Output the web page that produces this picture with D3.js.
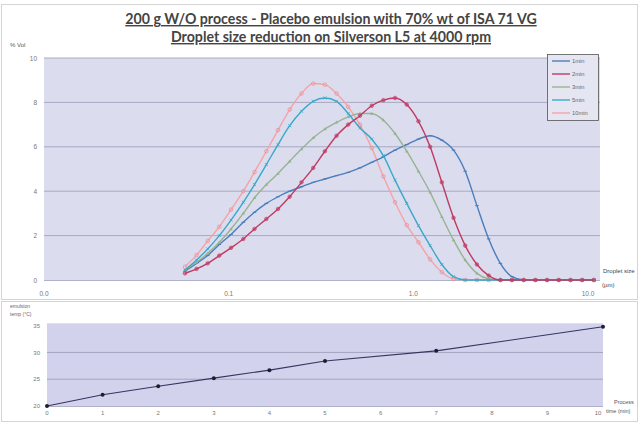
<!DOCTYPE html>
<html><head><meta charset="utf-8">
<script src="https://cdn.jsdelivr.net/npm/d3@7"></script>
<style>
html,body{margin:0;padding:0;background:#fff;}
svg{display:block;}
</style></head>
<body>
<svg id="c" width="640" height="433"></svg>
<script>
// ---- data ----
const sizes = [0.058,0.067,0.077,0.089,0.103,0.120,0.138,0.160,0.185,0.214,0.248,0.287,0.332,0.384,0.444,0.514,0.595,0.688,0.796,0.921,1.066,1.233,1.427,1.651,1.910,2.21,2.56,2.96,3.42,3.96,4.58,5.30,6.13,7.10,8.21,9.50];
const seriesNames = ["1min","2min","3min","5min","10min"];
const v1min  = [0.4,0.75,1.1,1.6,2.05,2.6,3.05,3.45,3.75,4.0,4.2,4.4,4.55,4.7,4.85,5.05,5.3,5.55,5.85,6.1,6.35,6.5,6.3,5.85,4.9,3.35,1.85,0.75,0.15,0,0,0,0,0,0,0];
const v2min  = [0.3,0.5,0.75,1.1,1.45,1.85,2.3,2.75,3.2,3.75,4.4,5.05,5.8,6.5,7.0,7.4,7.85,8.1,8.2,7.9,7.15,6.0,4.4,2.8,1.55,0.7,0.2,0,0,0,0,0,0,0,0,0];
const v3min  = [0.45,0.8,1.2,1.7,2.3,3.0,3.7,4.3,4.8,5.35,5.9,6.4,6.8,7.1,7.35,7.5,7.5,7.2,6.6,5.8,4.9,3.95,2.85,1.8,0.9,0.3,0.05,0,0,0,0,0,0,0,0,0];
const v5min  = [0.45,0.9,1.4,2.0,2.7,3.5,4.3,5.2,6.1,6.95,7.6,8.05,8.2,8.05,7.5,6.85,6.35,5.6,4.5,3.45,2.45,1.55,0.7,0.15,0,0,0,0,0,0,0,0,0,0,0,0];
const v10min = [0.6,1.12,1.76,2.4,3.17,4.0,4.86,5.8,6.75,7.68,8.4,8.85,8.8,8.4,7.8,7.0,5.95,4.67,3.5,2.47,1.7,0.93,0.35,0.05,0,0,0,0,0,0,0,0,0,0,0,0];
const seriesColors = ["#4a7dbb","#c03a62","#97b38f","#3aa8c8","#f4a3a6"];
const xTickVals = [0.01,0.1,1,10];
const xTickLabels = ["0.0","0.1","1.0","10.0"];
const yTicks = [0,2,4,6,8,10];

const times = [0,1,2,3,4,5,7,10];
const temps = [20,22.1,23.7,25.2,26.7,28.4,30.3,34.8];
const tTicks = [0,1,2,3,4,5,6,7,8,9,10];
const tempTicks = [20,25,30,35];

const svg = d3.select("#c");
const FONT = "'Liberation Sans', Arial, sans-serif";

// outer frames
svg.append("rect").attr("x",1.5).attr("y",4.5).attr("width",636).attr("height",295).attr("fill","#fff").attr("stroke","#d4d4d4");
svg.append("rect").attr("x",1.5).attr("y",301.5).attr("width",636).attr("height",120).attr("fill","#fff").attr("stroke","#d4d4d4");

// titles
const titles = ["200 g W/O process - Placebo emulsion with 70% wt of ISA 71 VG","Droplet size reduction on Silverson L5 at 4000 rpm"];
titles.forEach((t,i)=>{
  svg.append("text").attr("x",331).attr("y",24+i*18).attr("text-anchor","middle")
    .attr("font-family","Lato, 'Open Sans', sans-serif").attr("font-weight","bold").attr("font-size",14.2)
    .attr("fill","#444").attr("text-decoration","underline").text(t);
});

// ---- top chart ----
const x = d3.scaleLog().domain([0.01,10]).range([44,598]);
const y = d3.scaleLinear().domain([0,10]).range([280,58]);

svg.append("rect").attr("x",44).attr("y",y(10)).attr("width",556).attr("height",y(0)-y(10)).attr("fill","#dcdcef");
svg.append("g").selectAll("line").data(yTicks.filter(d=>d>0)).join("line")
  .attr("x1",44).attr("x2",600).attr("y1",d=>y(d)).attr("y2",d=>y(d))
  .attr("stroke","#9a9ab8").attr("stroke-width",0.8);
svg.append("line").attr("x1",44).attr("x2",600).attr("y1",y(0)+0.5).attr("y2",y(0)+0.5).attr("stroke","#b0b0c8");

svg.append("g").selectAll("text").data(yTicks).join("text")
  .attr("x",37).attr("y",d=>y(d)+2.5).attr("text-anchor","end")
  .attr("font-family",FONT).attr("font-size",6.5).attr("fill","#777").text(d=>d);
svg.append("g").selectAll("text").data(xTickVals).join("text")
  .attr("x",(d,i)=> i===3 ? x(d)-10 : x(d)).attr("y",296).attr("text-anchor","middle")
  .attr("font-family",FONT).attr("font-size",6.5).attr("fill","#777").text((d,i)=>xTickLabels[i]);
svg.append("text").attr("x",10).attr("y",47).attr("font-family",FONT).attr("font-size",6).attr("fill","#555").text("% Vol");
svg.append("text").attr("x",603).attr("y",273).attr("font-family",FONT).attr("font-size",6).attr("fill","#444").text("Droplet size");
svg.append("text").attr("x",602).attr("y",287).attr("font-family",FONT).attr("font-size",6).attr("fill","#444").text("(µm)");

const allSeries = [v1min,v2min,v3min,v5min,v10min];
const line = d3.line().x((d,i)=>x(sizes[i])).y(d=>y(d)).curve(d3.curveMonotoneX);
const order = [4,0,2,3,1];
order.forEach(si=>{
  const vals = allSeries[si], col = seriesColors[si];
  const g = svg.append("g");
  g.append("path").attr("d",line(vals)).attr("fill","none").attr("stroke",col).attr("stroke-width",1.4);
  const pts = g.selectAll("g").data(vals).join("g").attr("transform",(d,i)=>`translate(${x(sizes[i])},${y(d)})`);
  if(si===0){ pts.append("line").attr("x1",-1.8).attr("x2",1.8).attr("stroke",col).attr("stroke-width",1); }
  else if(si===1){ pts.append("circle").attr("r",1.8).attr("fill",col).attr("fill-opacity",0.6).attr("stroke",col).attr("stroke-width",0.6); }
  else if(si===2){ pts.append("path").attr("d","M-1.8,1.2L0,-1.8L1.8,1.2Z").attr("fill",col); }
  else if(si===3){ pts.append("path").attr("d","M-1.5,-1.5L1.5,1.5M-1.5,1.5L1.5,-1.5").attr("stroke",col).attr("stroke-width",0.8); }
  else { pts.append("circle").attr("r",1.8).attr("fill","none").attr("stroke","#ea8a90").attr("stroke-width",0.7); }
});

// legend
const lg = svg.append("g");
lg.append("rect").attr("x",547.5).attr("y",54.5).attr("width",51).attr("height",66).attr("fill","#e6e6f3").attr("stroke","#555").attr("stroke-width",0.8);
seriesNames.forEach((n,i)=>{
  const yy = 61+i*13;
  lg.append("line").attr("x1",552).attr("x2",570).attr("y1",yy).attr("y2",yy).attr("stroke",seriesColors[i]).attr("stroke-width",1.4);
  lg.append("text").attr("x",572).attr("y",yy+2.2).attr("font-family",FONT).attr("font-size",5.8).attr("fill","#666").text(n);
});

// ---- bottom chart ----
const xt = d3.scaleLinear().domain([0,10]).range([47,603]);
const yt = d3.scaleLinear().domain([20,35]).range([406,325.7]);
svg.append("rect").attr("x",47).attr("y",yt(35.45)).attr("width",556).attr("height",yt(20)-yt(35.45)).attr("fill","#d2d2ec");
svg.append("g").selectAll("line").data([25,30]).join("line")
  .attr("x1",47).attr("x2",603).attr("y1",d=>yt(d)).attr("y2",d=>yt(d)).attr("stroke","#9a9ab8").attr("stroke-width",0.8);
svg.append("line").attr("x1",47).attr("x2",603).attr("y1",yt(20)+0.5).attr("y2",yt(20)+0.5).attr("stroke","#b0b0c8");
svg.append("g").selectAll("text").data(tempTicks).join("text")
  .attr("x",40).attr("y",d=>yt(d)+2.2).attr("text-anchor","end")
  .attr("font-family",FONT).attr("font-size",6).attr("fill","#777").text(d=>d);
svg.append("g").selectAll("text").data(tTicks).join("text")
  .attr("x",d=> d===10 ? xt(d)-5 : xt(d)).attr("y",415).attr("text-anchor","middle")
  .attr("font-family",FONT).attr("font-size",6).attr("fill","#777").text(d=>d);
svg.append("text").attr("x",10).attr("y",308).attr("font-family",FONT).attr("font-size",5).attr("fill","#666").text("emulsion");
svg.append("text").attr("x",10).attr("y",316).attr("font-family",FONT).attr("font-size",5).attr("fill","#666").text("temp (°C)");
svg.append("text").attr("x",614).attr("y",404).attr("font-family",FONT).attr("font-size",5.5).attr("fill","#555").text("Process");
svg.append("text").attr("x",606).attr("y",413).attr("font-family",FONT).attr("font-size",5.5).attr("fill","#555").text("time (min)");

const tline = d3.line().x((d,i)=>xt(times[i])).y(d=>yt(d));
svg.append("path").attr("d",tline(temps)).attr("fill","none").attr("stroke","#353560").attr("stroke-width",1.1);
svg.append("g").selectAll("circle").data(temps).join("circle")
  .attr("cx",(d,i)=>xt(times[i])).attr("cy",d=>yt(d)).attr("r",2).attr("fill","#1e1e2e");
</script>
</body></html>
